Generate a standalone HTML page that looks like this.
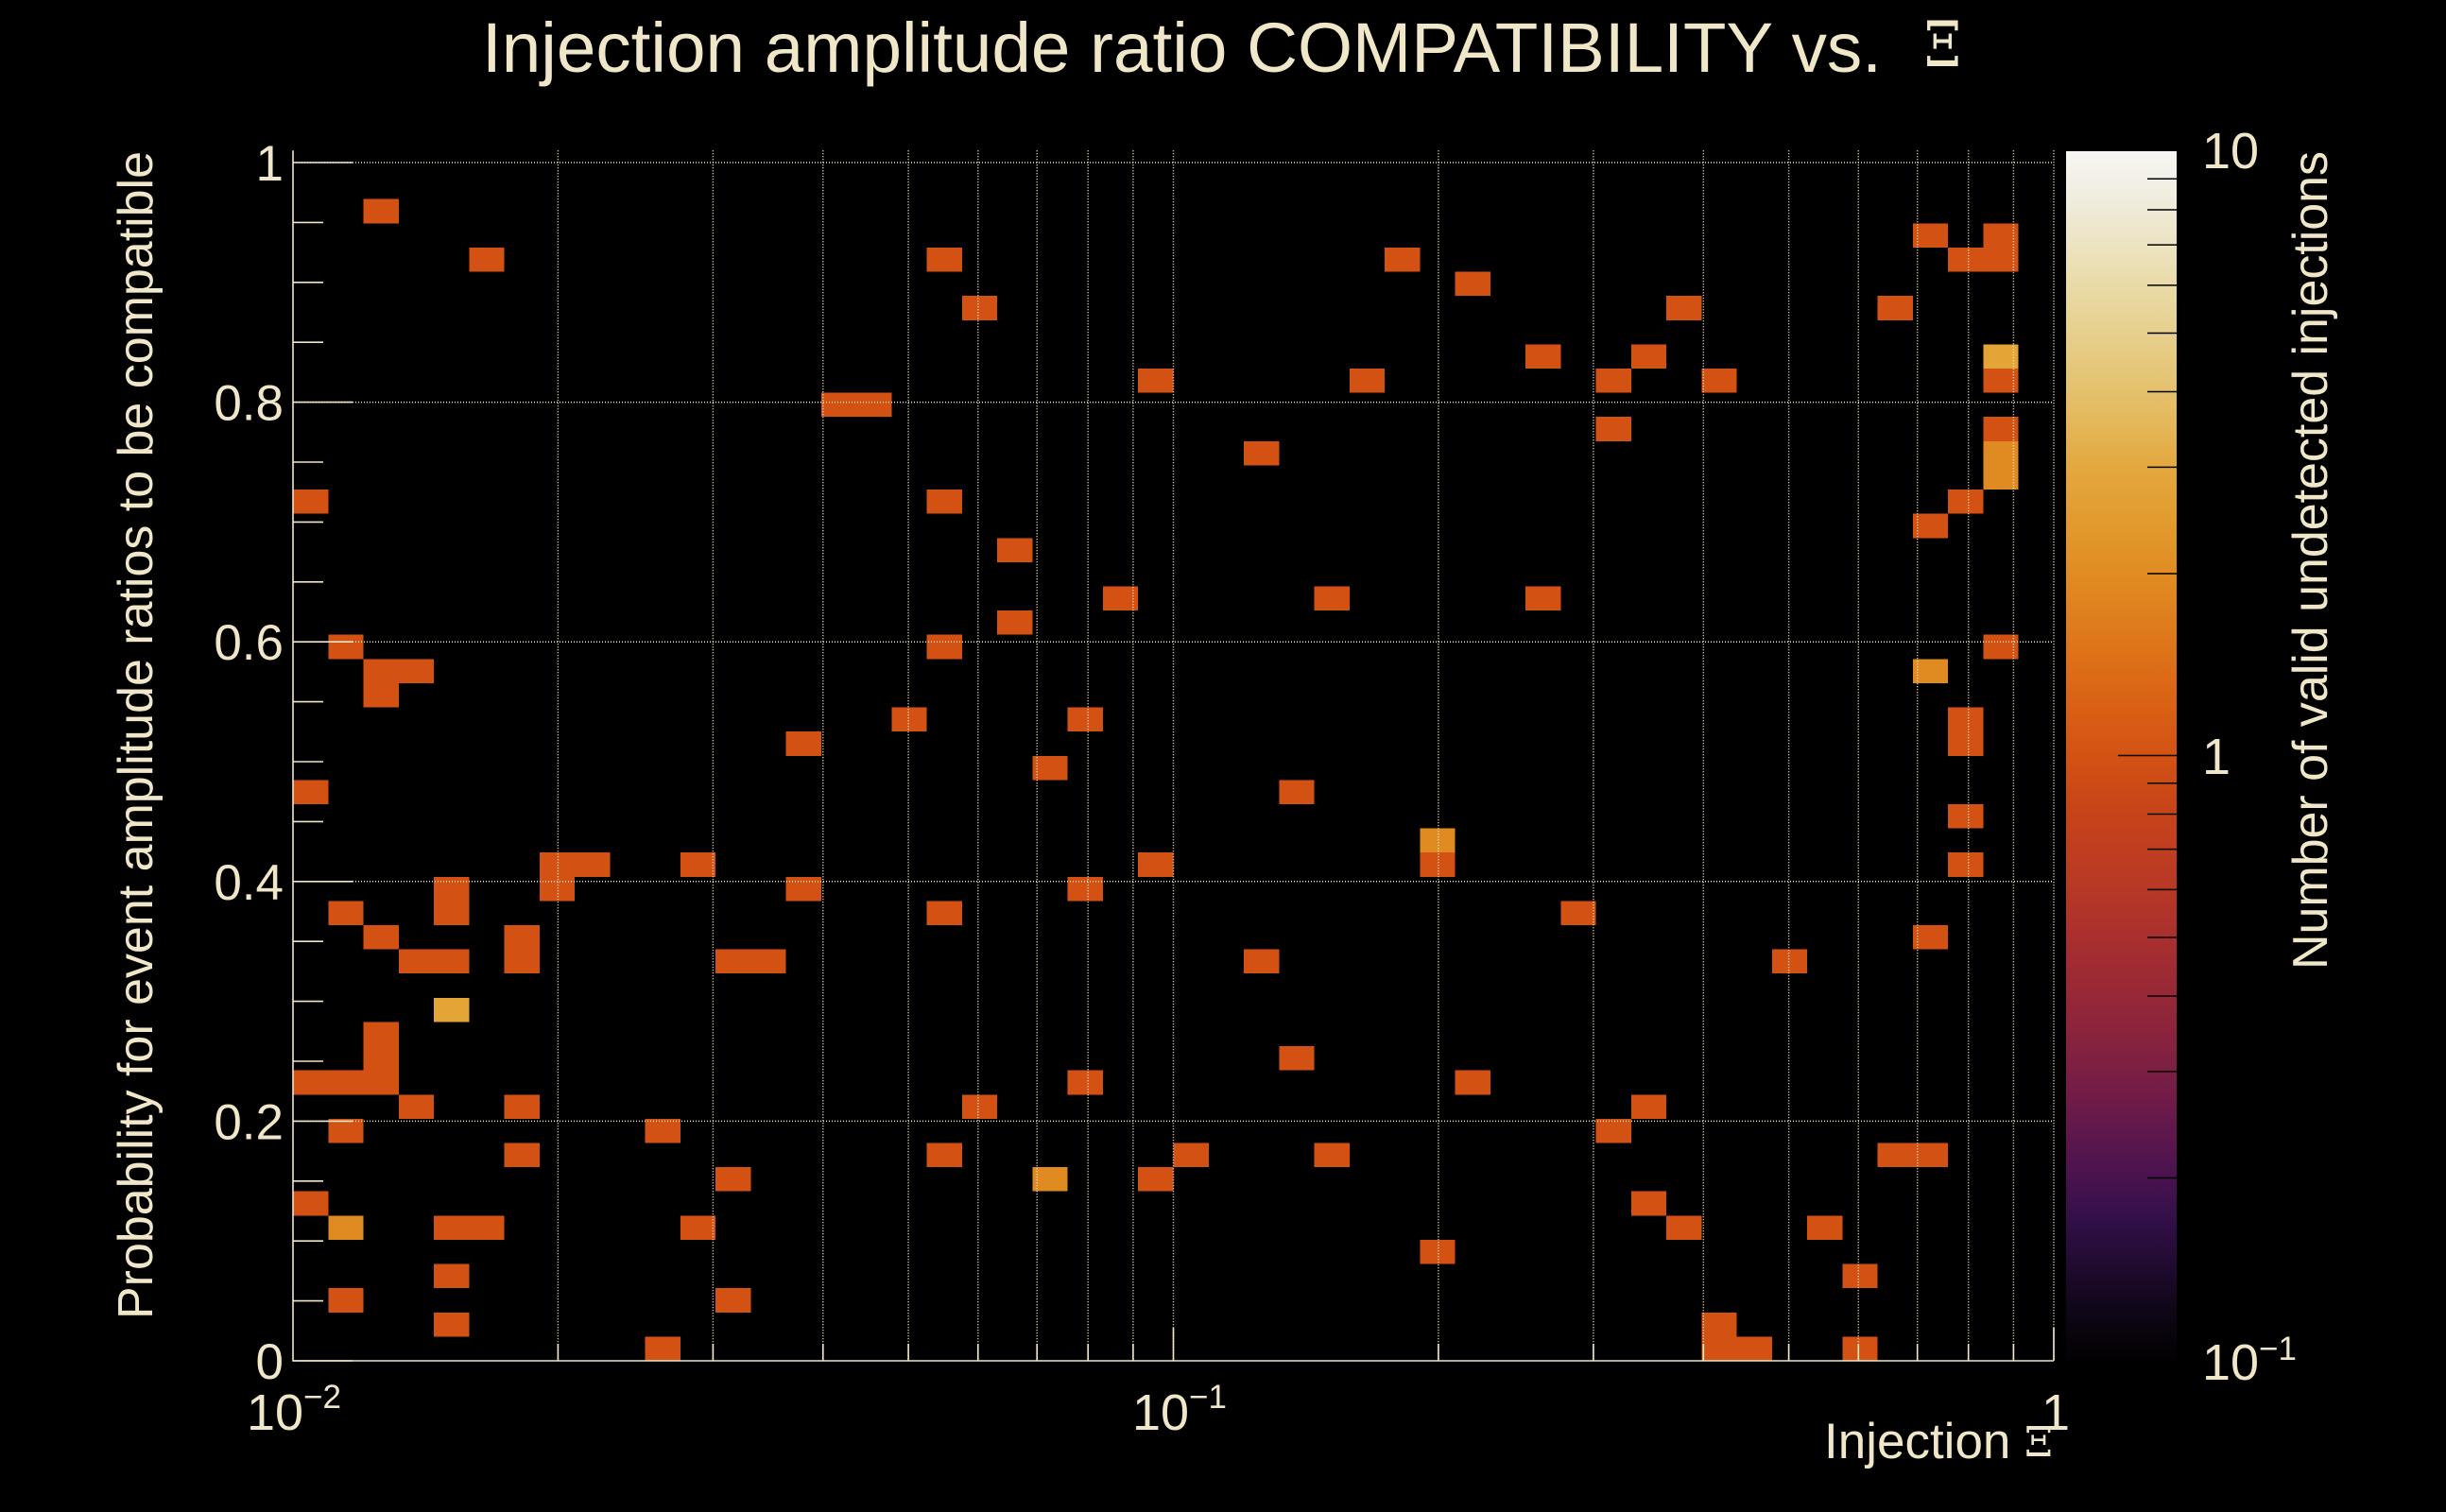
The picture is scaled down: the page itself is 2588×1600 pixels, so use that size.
<!DOCTYPE html>
<html>
<head>
<meta charset="utf-8">
<style>
html,body{margin:0;padding:0;background:#000;}
svg{display:block;}
text{font-family:"Liberation Sans",Arial,sans-serif;fill:#f0e6c8;}
.serif{font-family:"DejaVu Serif","Liberation Serif",serif;}
</style>
</head>
<body>
<svg width="2588" height="1600" viewBox="0 0 2588 1600" xmlns="http://www.w3.org/2000/svg">
<defs>
<linearGradient id="pal" x1="0" y1="0" x2="0" y2="1">
<stop offset="0" stop-color="#f6f6f3"/>
<stop offset="0.043" stop-color="#f0ecdc"/>
<stop offset="0.11" stop-color="#e9dba8"/>
<stop offset="0.163" stop-color="#e6cc85"/>
<stop offset="0.21" stop-color="#e4bd65"/>
<stop offset="0.262" stop-color="#e3a83e"/>
<stop offset="0.309" stop-color="#e29a2c"/>
<stop offset="0.351" stop-color="#e08c22"/>
<stop offset="0.409" stop-color="#de7519"/>
<stop offset="0.455" stop-color="#da6215"/>
<stop offset="0.501" stop-color="#d35213"/>
<stop offset="0.54" stop-color="#c84518"/>
<stop offset="0.608" stop-color="#b93826"/>
<stop offset="0.674" stop-color="#a02b32"/>
<stop offset="0.741" stop-color="#85223f"/>
<stop offset="0.787" stop-color="#6e1b48"/>
<stop offset="0.84" stop-color="#4e1450"/>
<stop offset="0.88" stop-color="#35104a"/>
<stop offset="0.927" stop-color="#1e0a2c"/>
<stop offset="0.973" stop-color="#0a040f"/>
<stop offset="1" stop-color="#030104"/>
</linearGradient>
</defs>
<rect width="2588" height="1600" fill="#000"/>

<!-- bins -->
<g transform="translate(310 1440) scale(37.26 -25.61)" shape-rendering="crispEdges">
<g fill="#d35213">
<rect x="2" y="47" width="1" height="1"/><rect x="5" y="45" width="1" height="1"/><rect x="15" y="39" width="2" height="1"/>
<rect x="0" y="35" width="1" height="1"/><rect x="1" y="29" width="1" height="1"/><rect x="2" y="28" width="2" height="1"/>
<rect x="2" y="27" width="1" height="1"/><rect x="14" y="25" width="1" height="1"/>
<rect x="18" y="45" width="1" height="1"/><rect x="19" y="43" width="1" height="1"/><rect x="24" y="40" width="1" height="1"/>
<rect x="30" y="40" width="1" height="1"/><rect x="31" y="45" width="1" height="1"/><rect x="33" y="44" width="1" height="1"/>
<rect x="27" y="37" width="1" height="1"/><rect x="18" y="35" width="1" height="1"/><rect x="20" y="33" width="1" height="1"/>
<rect x="23" y="31" width="1" height="1"/><rect x="29" y="31" width="1" height="1"/><rect x="20" y="30" width="1" height="1"/>
<rect x="18" y="29" width="1" height="1"/><rect x="17" y="26" width="1" height="1"/><rect x="22" y="26" width="1" height="1"/>
<rect x="46" y="46" width="1" height="1"/><rect x="48" y="46" width="1" height="1"/><rect x="47" y="45" width="2" height="1"/>
<rect x="39" y="43" width="1" height="1"/><rect x="45" y="43" width="1" height="1"/><rect x="35" y="41" width="1" height="1"/>
<rect x="38" y="41" width="1" height="1"/><rect x="37" y="40" width="1" height="1"/><rect x="40" y="40" width="1" height="1"/>
<rect x="48" y="40" width="1" height="1"/><rect x="37" y="38" width="1" height="1"/><rect x="48" y="38" width="1" height="1"/>
<rect x="47" y="35" width="1" height="1"/><rect x="46" y="34" width="1" height="1"/><rect x="35" y="31" width="1" height="1"/>
<rect x="48" y="29" width="1" height="1"/><rect x="47" y="25" width="1" height="2"/>
<rect x="0" y="23" width="1" height="1"/><rect x="7" y="20" width="2" height="1"/><rect x="7" y="19" width="1" height="1"/>
<rect x="11" y="20" width="1" height="1"/><rect x="4" y="18" width="1" height="2"/><rect x="14" y="19" width="1" height="1"/>
<rect x="1" y="18" width="1" height="1"/><rect x="2" y="17" width="1" height="1"/><rect x="3" y="16" width="2" height="1"/>
<rect x="6" y="16" width="1" height="2"/><rect x="12" y="16" width="2" height="1"/><rect x="2" y="11" width="1" height="3"/>
<rect x="0" y="11" width="2" height="1"/><rect x="3" y="10" width="1" height="1"/><rect x="6" y="10" width="1" height="1"/>
<rect x="1" y="9" width="1" height="1"/><rect x="10" y="9" width="1" height="1"/><rect x="6" y="8" width="1" height="1"/>
<rect x="12" y="7" width="1" height="1"/><rect x="0" y="6" width="1" height="1"/><rect x="4" y="5" width="2" height="1"/>
<rect x="11" y="5" width="1" height="1"/><rect x="4" y="3" width="1" height="1"/><rect x="1" y="2" width="1" height="1"/>
<rect x="12" y="2" width="1" height="1"/><rect x="4" y="1" width="1" height="1"/><rect x="10" y="0" width="1" height="1"/>
<rect x="21" y="24" width="1" height="1"/><rect x="28" y="23" width="1" height="1"/><rect x="32" y="20" width="1" height="1"/>
<rect x="24" y="20" width="1" height="1"/><rect x="22" y="19" width="1" height="1"/><rect x="18" y="18" width="1" height="1"/>
<rect x="27" y="16" width="1" height="1"/><rect x="28" y="12" width="1" height="1"/><rect x="22" y="11" width="1" height="1"/>
<rect x="33" y="11" width="1" height="1"/><rect x="19" y="10" width="1" height="1"/><rect x="18" y="8" width="1" height="1"/>
<rect x="25" y="8" width="1" height="1"/><rect x="29" y="8" width="1" height="1"/><rect x="24" y="7" width="1" height="1"/>
<rect x="32" y="4" width="1" height="1"/>
<rect x="47" y="22" width="1" height="1"/><rect x="47" y="20" width="1" height="1"/><rect x="36" y="18" width="1" height="1"/>
<rect x="46" y="17" width="1" height="1"/><rect x="42" y="16" width="1" height="1"/><rect x="38" y="10" width="1" height="1"/>
<rect x="37" y="9" width="1" height="1"/><rect x="45" y="8" width="2" height="1"/><rect x="38" y="6" width="1" height="1"/>
<rect x="39" y="5" width="1" height="1"/><rect x="43" y="5" width="1" height="1"/><rect x="44" y="3" width="1" height="1"/>
<rect x="40" y="0" width="1" height="2"/><rect x="41" y="0" width="1" height="1"/><rect x="44" y="0" width="1" height="1"/>
</g>
<g fill="#e08a22">
<rect x="48" y="36" width="1" height="2"/><rect x="46" y="28" width="1" height="1"/><rect x="1" y="5" width="1" height="1"/>
<rect x="32" y="21" width="1" height="1"/><rect x="21" y="7" width="1" height="1"/>
</g>
<g fill="#e3a535">
<rect x="48" y="41" width="1" height="1"/><rect x="4" y="14" width="1" height="1"/>
</g>
</g>

<!-- grid -->
<g stroke="#f0e6c8" stroke-width="1.5" stroke-dasharray="1 2" fill="none">
<path d="M590.4 159.3V1440M754.4 159.3V1440M870.8 159.3V1440M961.1 159.3V1440M1034.8 159.3V1440M1097.2 159.3V1440M1151.2 159.3V1440M1198.9 159.3V1440M1241.5 159.3V1440M1521.9 159.3V1440M1685.9 159.3V1440M1802.3 159.3V1440M1892.6 159.3V1440M1966.3 159.3V1440M2028.7 159.3V1440M2082.7 159.3V1440M2130.4 159.3V1440M2173 159.3V1440"/>
<path d="M310 172H2173M310 425.6H2173M310 679.2H2173M310 932.8H2173M310 1186.4H2173"/>
</g>

<!-- axes -->
<g stroke="#f0e6c8" stroke-width="1.6" fill="none">
<path d="M310 159.3V1440H2173"/>
<path d="M310 172H373M310 425.6H373M310 679.2H373M310 932.8H373M310 1186.4H373M310 1440H373"/>
<path d="M310 235.4H342M310 298.8H342M310 362.2H342M310 489H342M310 552.4H342M310 615.8H342M310 742.6H342M310 806H342M310 869.4H342M310 996.2H342M310 1059.6H342M310 1123H342M310 1249.8H342M310 1313.2H342M310 1376.6H342"/>
<path d="M590.4 1440V1422M754.4 1440V1422M870.8 1440V1422M961.1 1440V1422M1034.8 1440V1422M1097.2 1440V1422M1151.2 1440V1422M1198.9 1440V1422M1521.9 1440V1422M1685.9 1440V1422M1802.3 1440V1422M1892.6 1440V1422M1966.3 1440V1422M2028.7 1440V1422M2082.7 1440V1422M2130.4 1440V1422"/>
<path d="M1241.5 1440V1405M2173 1440V1405"/>
</g>

<!-- colorbar -->
<rect x="2186" y="160" width="117" height="1279" fill="url(#pal)"/>
<g stroke="#000" stroke-width="1.5">
<path d="M2272 189.3H2303M2272 222H2303M2272 259.1H2303M2272 301.9H2303M2272 352.5H2303M2272 414.5H2303M2272 494.4H2303M2272 607H2303"/>
<path d="M2241 799.5H2303"/>
<path d="M2272 828.8H2303M2272 861.5H2303M2272 898.6H2303M2272 941.4H2303M2272 992H2303M2272 1054H2303M2272 1133.9H2303M2272 1246.5H2303"/>
</g>

<!-- y tick labels -->
<g font-size="53" text-anchor="end">
<text x="300" y="191">1</text>
<text x="300" y="444.6">0.8</text>
<text x="300" y="698.2">0.6</text>
<text x="300" y="951.8">0.4</text>
<text x="300" y="1205.4">0.2</text>
<text x="300" y="1459">0</text>
</g>

<!-- x tick labels -->
<text x="261" y="1513" font-size="54">10<tspan font-size="35" dy="-23">−2</tspan></text>
<text x="1198" y="1513" font-size="54">10<tspan font-size="35" dy="-23">−1</tspan></text>
<text x="2160" y="1513" font-size="54">1</text>

<!-- colorbar labels -->
<text x="2330" y="178" font-size="54">10</text>
<text x="2330" y="819" font-size="54">1</text>
<text x="2330" y="1460" font-size="54">10<tspan font-size="35" dy="-21">−1</tspan></text>

<!-- title -->
<text x="510" y="76" font-size="74" textLength="1481" lengthAdjust="spacingAndGlyphs">Injection amplitude ratio COMPATIBILITY vs.</text>
<text class="serif" x="2036" y="70" font-size="66" textLength="39" lengthAdjust="spacingAndGlyphs">Ξ</text>

<!-- x axis title -->
<text x="1930" y="1543" font-size="53">Injection</text>
<text class="serif" x="2142" y="1541" font-size="44" textLength="30" lengthAdjust="spacingAndGlyphs">Ξ</text>

<!-- y axis title -->
<text transform="translate(161 160) rotate(-90)" text-anchor="end" font-size="52" textLength="1236" lengthAdjust="spacingAndGlyphs">Probability for event amplitude ratios to be compatible</text>

<!-- colorbar title -->
<text transform="translate(2462 160) rotate(-90)" text-anchor="end" font-size="52" textLength="866" lengthAdjust="spacingAndGlyphs">Number of valid undetected injections</text>
</svg>
</body>
</html>
